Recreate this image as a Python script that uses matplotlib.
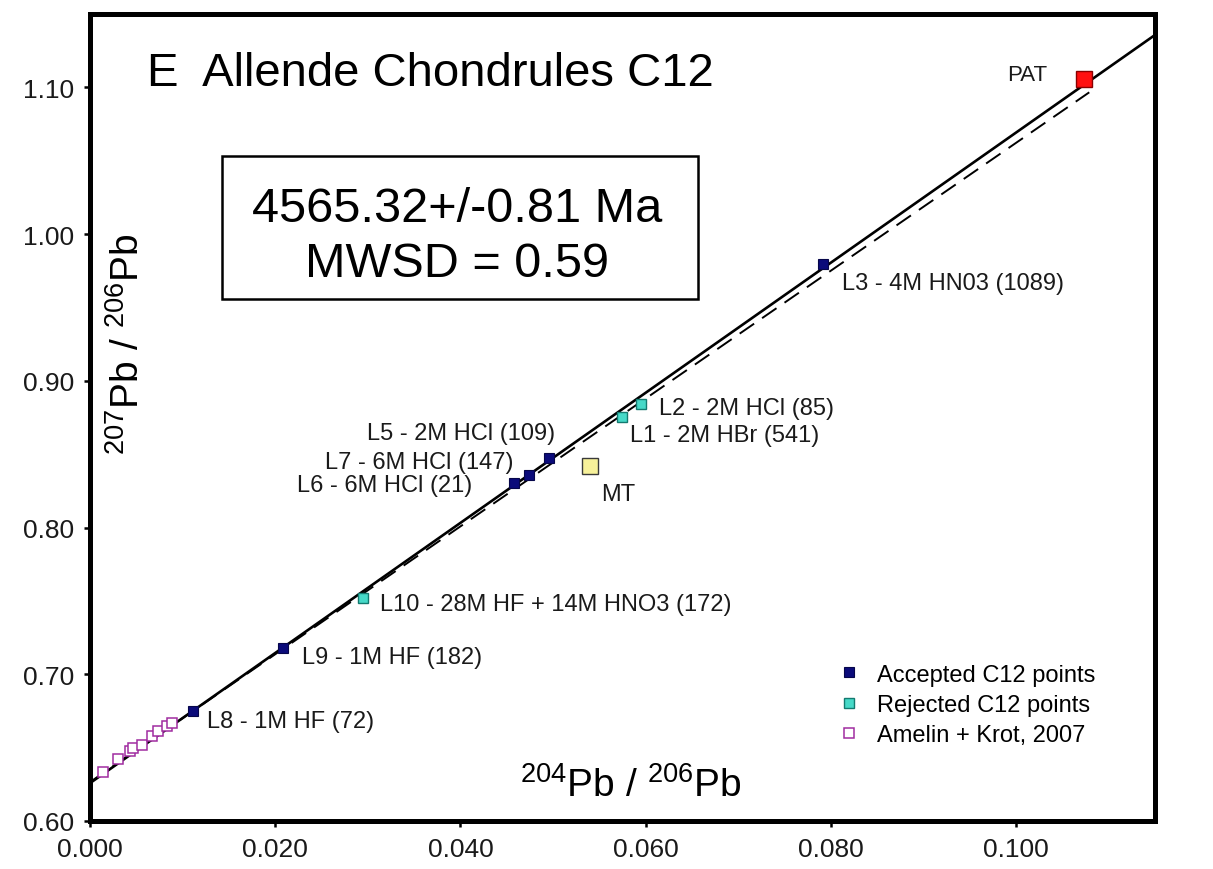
import matplotlib
matplotlib.use("Agg")
import matplotlib.pyplot as plt
from matplotlib.patches import Rectangle

plt.rcParams['font.family'] = ['Liberation Sans', 'DejaVu Sans']
plt.rcParams['mathtext.default'] = 'regular'

# accepted C12 leachates
acc_names = ['L3 - 4M HN03 (1089)', 'L5 - 2M HCl (109)', 'L7 - 6M HCl (147)',
             'L6 - 6M HCl (21)', 'L9 - 1M HF (182)', 'L8 - 1M HF (72)']
acc_x = [0.0791, 0.0496, 0.0474, 0.0458, 0.0208, 0.0111]
acc_y = [0.9796, 0.8476, 0.8360, 0.8300, 0.7177, 0.6748]

# rejected C12 leachates
rej_names = ['L2 - 2M HCl (85)', 'L1 - 2M HBr (541)', 'L10 - 28M HF + 14M HNO3 (172)']
rej_x = [0.0595, 0.0574, 0.0295]
rej_y = [0.8844, 0.8755, 0.7517]

# Amelin + Krot 2007
ak_x = [0.0014, 0.0030, 0.0043, 0.0046, 0.0056, 0.0067, 0.0073, 0.0083, 0.0088]
ak_y = [0.6333, 0.6422, 0.6476, 0.6497, 0.6517, 0.6578, 0.6612, 0.6646, 0.6667]

# reference points
mt_x, mt_y = 0.0540, 0.8420
pat_x, pat_y = 0.1073, 1.1060

# isochron lines
iso_x = [0.0, 0.115]
iso_y = [0.6258, 1.1357]
dash_x = [0.0, 0.1079]
dash_y = [0.6265, 1.0966]

# label offsets (points)
acc_off = [(14, -14), (4, 18), (-11, 9), (-30, -1), (14, -6), (10, -7)]
acc_ha = ['left', 'right', 'right', 'right', 'left', 'left']
rej_off = [(13, -3), (6, -13), (12, -4)]

fig = plt.figure(figsize=(12.13, 8.70), dpi=100)
ax = fig.add_axes([0.0742, 0.0552, 0.8780, 0.9276])

ax.plot(iso_x, iso_y, color='black', lw=1.9, zorder=2)
ax.plot(dash_x, dash_y, color='black', lw=1.4, ls=(0, (9, 5)), zorder=2)

ax.plot(acc_x, acc_y, ls='none', marker='s', ms=7.5, mfc='#0b0b7a', mec='#06064a',
        mew=0.8, zorder=4, label='Accepted C12 points')
ax.plot(rej_x, rej_y, ls='none', marker='s', ms=7, mfc='#46d9c8', mec='#137a70',
        mew=1.0, zorder=4, label='Rejected C12 points')
ax.plot(ak_x, ak_y, ls='none', marker='s', ms=6.5, mfc='white', mec='#a02ca0',
        mew=1.1, zorder=3, label='Amelin + Krot, 2007')
ax.plot([mt_x], [mt_y], ls='none', marker='s', ms=11.5, mfc='#f7f19a', mec='#3a3a3a',
        mew=1.0, zorder=4)
ax.plot([pat_x], [pat_y], ls='none', marker='s', ms=12, mfc='#ff1010', mec='#8a0000',
        mew=1.0, zorder=4)

lab_fs = 17
for name, x, y, off, ha in zip(acc_names, acc_x, acc_y, acc_off, acc_ha):
    ax.annotate(name, (x, y), xytext=off, textcoords='offset points',
                ha=ha, va='center', fontsize=lab_fs, color='#1a1a1a')
for name, x, y, off in zip(rej_names, rej_x, rej_y, rej_off):
    ax.annotate(name, (x, y), xytext=off, textcoords='offset points',
                ha='left', va='center', fontsize=lab_fs, color='#1a1a1a')
ax.annotate('MT', (mt_x, mt_y), xytext=(8, -20), textcoords='offset points',
            ha='left', va='center', fontsize=lab_fs, color='#1a1a1a')
ax.annotate('PAT', (pat_x, pat_y), xytext=(-26, 3), textcoords='offset points',
            ha='right', va='center', fontsize=16, color='#1a1a1a')

ax.set_xlim(0, 0.115)
ax.set_ylim(0.60, 1.15)
ax.set_xticks([0.0, 0.02, 0.04, 0.06, 0.08, 0.10])
ax.set_xticklabels(['0.000', '0.020', '0.040', '0.060', '0.080', '0.100'])
ax.set_yticks([0.60, 0.70, 0.80, 0.90, 1.00, 1.10])
ax.set_yticklabels(['0.60', '0.70', '0.80', '0.90', '1.00', '1.10'])
ax.tick_params(direction='out', length=4.5, width=1.8, labelsize=19, pad=7,
               colors='black', labelcolor='#1a1a1a')
for sp in ax.spines.values():
    sp.set_linewidth(3.6)

ax.text(0.0535, 0.912, 'E  Allende Chondrules C12', transform=ax.transAxes,
        fontsize=34, ha='left', va='baseline')

ax.add_patch(Rectangle((0.124, 0.647), 0.447, 0.177, transform=ax.transAxes,
                       fill=False, lw=1.8, ec='black', zorder=5))
ax.text(0.345, 0.7435, '4565.32+/-0.81 Ma', transform=ax.transAxes,
        fontsize=35, ha='center', va='baseline')
ax.text(0.345, 0.6755, 'MWSD = 0.59', transform=ax.transAxes,
        fontsize=35, ha='center', va='baseline')

ax.text(0.0357, 0.592, '$^{207}$Pb / $^{206}$Pb', transform=ax.transAxes,
        rotation=90, fontsize=28, ha='center', va='center')
ax.text(0.508, 0.031, '$^{204}$Pb / $^{206}$Pb', transform=ax.transAxes,
        fontsize=28, ha='center', va='baseline')

ax.legend(loc='upper left', bbox_to_anchor=(0.702, 0.195), frameon=False,
          fontsize=17, handlelength=1.0, handletextpad=0.65, labelspacing=0.35,
          borderpad=0, borderaxespad=0, numpoints=1, markerscale=1.0)

fig.savefig('out.png', dpi=100)
